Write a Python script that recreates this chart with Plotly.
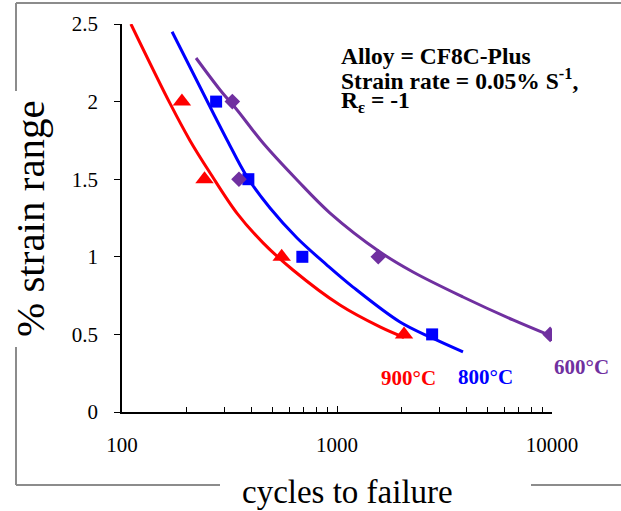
import plotly.graph_objects as go

# ---- data ----
strain_levels = [2.0, 1.5, 1.0, 0.5]
cycles_900 = [190, 242, 553, 2050]
cycles_800 = [274, 387, 690, 2770]
cycles_600 = [326, 350, 1556, 9800]

fit900_N = [110, 167, 207, 257, 343, 453, 624, 1032, 1585, 2049]
fit900_y = [2.50, 1.99, 1.75, 1.54, 1.28, 1.09, 0.915, 0.689, 0.548, 0.480]
fit800_N = [171, 257, 308, 382, 488, 652, 898, 1187, 1963, 2767, 3855]
fit800_y = [2.45, 1.965, 1.753, 1.514, 1.314, 1.121, 0.947, 0.805, 0.580, 0.477, 0.387]
fit600_N = [221, 286, 343, 453, 652, 928, 1585, 2257, 3855, 6586, 9900]
fit600_y = [2.281, 2.075, 1.946, 1.733, 1.495, 1.282, 1.031, 0.902, 0.741, 0.593, 0.49]

x_tickvals = [100, 1000, 10000]
x_ticktext = ["100", "1000", "10000"]
x_minor = [200, 300, 400, 500, 600, 700, 800, 900,
           2000, 3000, 4000, 5000, 6000, 7000, 8000, 9000]
y_tickvals = [0, 0.5, 1, 1.5, 2, 2.5]
y_ticktext = ["0", "0.5", "1", "1.5", "2", "2.5"]

RED = "#FF0000"
BLUE = "#0000FF"
PURPLE = "#7030A0"
FONT = "Liberation Serif, Times New Roman, serif"

fig = go.Figure()

for N, y, c in [(fit900_N, fit900_y, RED), (fit800_N, fit800_y, BLUE), (fit600_N, fit600_y, PURPLE)]:
    fig.add_trace(go.Scatter(x=N, y=y, mode="lines",
                             line=dict(color=c, width=3, shape="spline", smoothing=1.0),
                             showlegend=False, hoverinfo="skip"))

fig.add_trace(go.Scatter(x=cycles_900, y=strain_levels, mode="markers", name="900°C",
                         marker=dict(symbol="triangle-up", size=16, color=RED), showlegend=False))
fig.add_trace(go.Scatter(x=cycles_800, y=strain_levels, mode="markers", name="800°C",
                         marker=dict(symbol="square", size=12, color=BLUE), showlegend=False))
fig.add_trace(go.Scatter(x=cycles_600, y=strain_levels, mode="markers", name="600°C",
                         marker=dict(symbol="diamond", size=12, color=PURPLE), showlegend=False))

W, H = 621, 511
L, R, T, B = 122, 552, 24, 412


def px(x):
    return (x - L) / (R - L)


def py(y):
    return (B - y) / (B - T)


fig.update_layout(
    width=W, height=H,
    margin=dict(l=L, r=W - R, t=T, b=H - B),
    plot_bgcolor="white", paper_bgcolor="white",
    font=dict(family=FONT, color="black", size=21),
    showlegend=False,
)
fig.update_xaxes(type="log", range=[2, 4], showline=True, linecolor="black", linewidth=1.5,
                 tickvals=x_tickvals, ticktext=x_ticktext, ticks="inside", ticklen=6,
                 tickcolor="black", tickwidth=1, showgrid=False, zeroline=False,
                 ticklabelstandoff=13,
                 minor=dict(tickvals=x_minor, ticks="inside", ticklen=5, tickcolor="black",
                            tickwidth=1, showgrid=False),
                 tickfont=dict(size=21, family=FONT, color="black"))
fig.update_yaxes(range=[0, 2.5], showline=True, linecolor="black", linewidth=1.5,
                 tickvals=y_tickvals, ticktext=y_ticktext, ticks="outside", ticklen=6,
                 tickcolor="black", tickwidth=1, showgrid=False, zeroline=False,
                 ticklabelstandoff=12,
                 tickfont=dict(size=21, family=FONT, color="black"))

ann = []
# axis titles
ann.append(dict(text="% strain range", x=px(30), y=py(219), xref="paper", yref="paper",
                textangle=-90, showarrow=False, font=dict(size=41, family=FONT, color="black"),
                xanchor="center", yanchor="middle"))
ann.append(dict(text="cycles to failure", x=px(347), y=py(492), xref="paper", yref="paper",
                showarrow=False, font=dict(size=33, family=FONT, color="black"),
                xanchor="center", yanchor="middle"))
# info box
info_lines = ["Alloy = CF8C-Plus",
              "Strain rate = 0.05% S<sup>-1</sup>,",
              "R<sub>ε</sub> = -1"]
for txt, yc in zip(info_lines, [56, 79, 102]):
    ann.append(dict(text="<b>" + txt + "</b>", x=px(339), y=py(yc), xref="paper", yref="paper",
                    showarrow=False, xanchor="left", yanchor="middle", align="left",
                    font=dict(size=23.5, family=FONT, color="black")))
# temperature labels
for txt, c, xc, yc in [("900°C", RED, 408.5, 378), ("800°C", BLUE, 485, 377),
                       ("600°C", PURPLE, 581.5, 367)]:
    ann.append(dict(text="<b>" + txt + "</b>", x=px(xc), y=py(yc), xref="paper", yref="paper",
                    showarrow=False, xanchor="center", yanchor="middle",
                    font=dict(size=21, family=FONT, color=c)))
fig.update_layout(annotations=ann)

# outer grey frame with gaps for the axis titles
GREY = "#8c8c8c"
segs = [((16, 3), (621, 3)), ((16, 3), (16, 91)), ((16, 347), (16, 485)),
        ((16, 485), (220, 485)), ((531, 485), (621, 485))]
shapes = []
for (x0, y0), (x1, y1) in segs:
    shapes.append(dict(type="line", xref="paper", yref="paper",
                       x0=px(x0), y0=py(y0), x1=px(x1), y1=py(y1),
                       line=dict(color=GREY, width=2)))
fig.update_layout(shapes=shapes)

fig.write_html("out.html")
